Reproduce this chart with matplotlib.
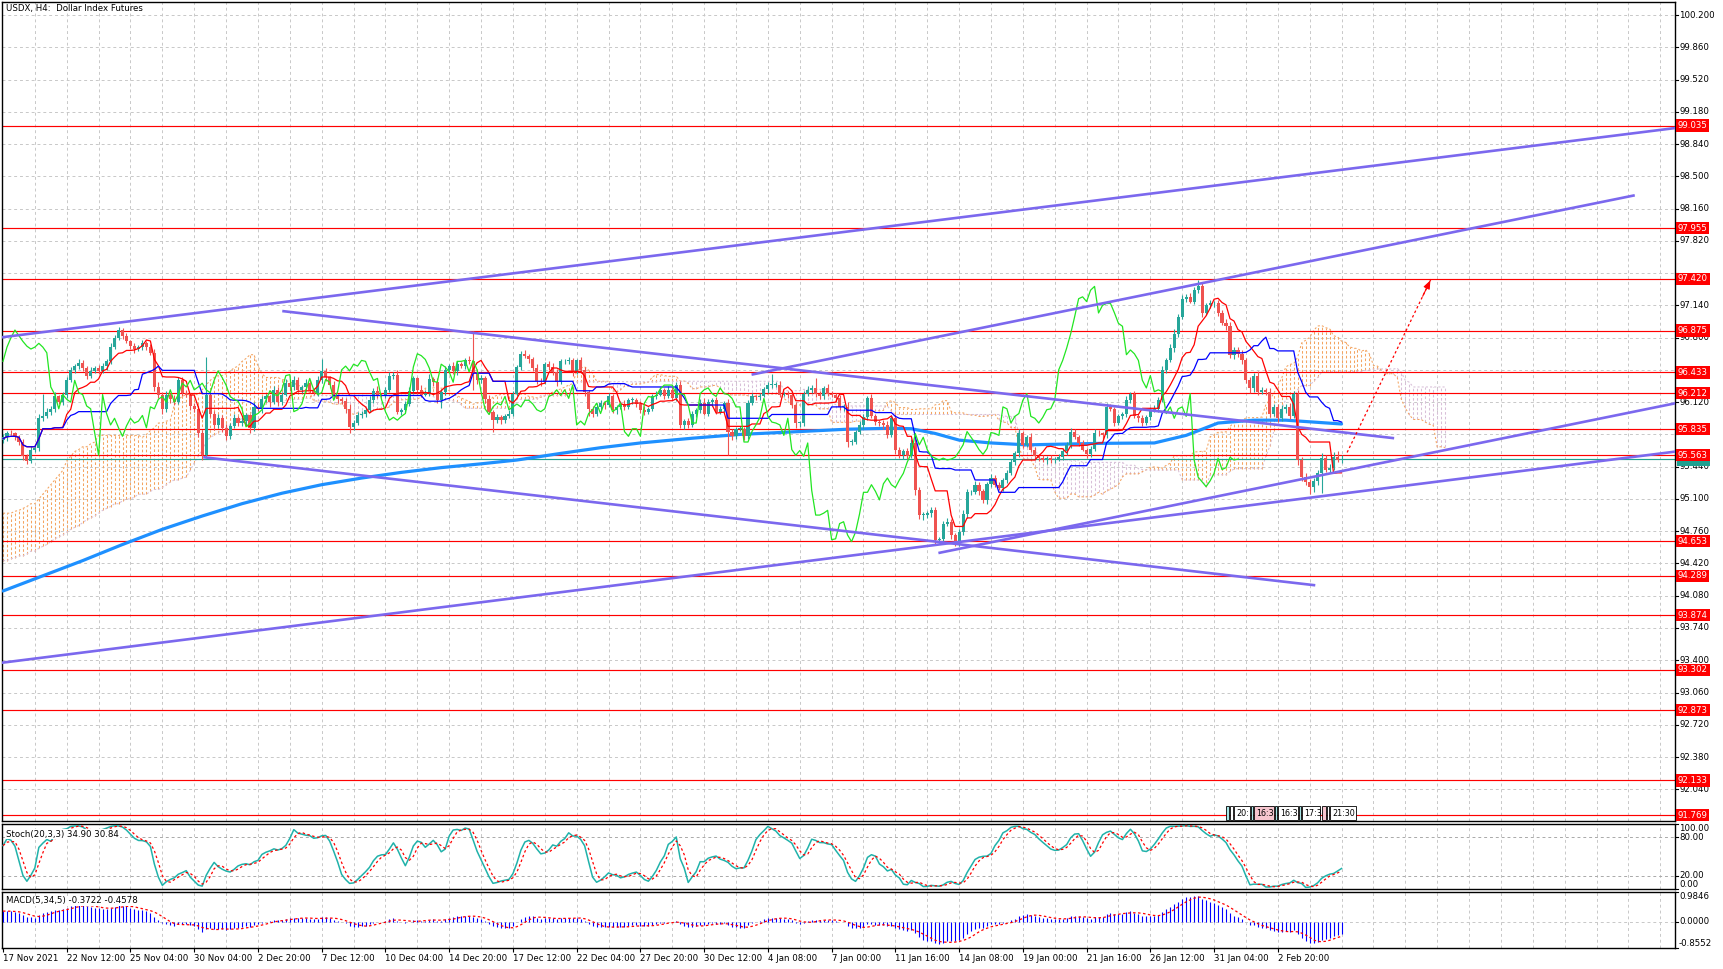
import numpy as np
import pandas as pd
import matplotlib
matplotlib.use("Agg")
import matplotlib.pyplot as plt
from matplotlib.transforms import blended_transform_factory as blend
from matplotlib.patches import Rectangle

# ---------------- data ----------------
title = "USDX, H4:  Dollar Index Futures"
first_open = 95.72
closes = [
    95.75, 95.80, 95.79, 95.75, 95.70, 95.55, 95.50, 95.62, 95.64, 95.95,
    95.97, 96.02, 96.05, 96.18, 96.12, 96.20, 96.35, 96.46, 96.50, 96.53,
    96.48, 96.40, 96.45, 96.48, 96.45, 96.50, 96.55, 96.70, 96.80, 96.88,
    96.82, 96.76, 96.71, 96.68, 96.70, 96.74, 96.70, 96.64, 96.28, 96.20,
    96.05, 96.20, 96.15, 96.12, 96.35, 96.22, 96.20, 96.08, 96.05, 95.80,
    95.56, 96.20, 96.00, 95.88, 95.95, 95.85, 95.76, 95.87, 95.95, 95.90,
    95.92, 95.98, 95.85, 96.07, 96.05, 96.15, 96.18, 96.12, 96.25, 96.12,
    96.20, 96.32, 96.28, 96.35, 96.25, 96.28, 96.32, 96.25, 96.22, 96.35,
    96.45, 96.38, 96.30, 96.18, 96.15, 96.13, 96.05, 95.86, 95.90, 95.98,
    96.00, 96.04, 96.14, 96.24, 96.20, 96.19, 96.25, 96.40, 96.41, 96.02,
    96.04, 96.10, 96.24, 96.37, 96.25, 96.20, 96.22, 96.36, 96.33, 96.14,
    96.23, 96.46, 96.50, 96.45, 96.52, 96.50, 96.56, 96.55, 96.44, 96.35,
    96.37, 96.15, 96.02, 95.93, 95.96, 95.93, 95.97, 96.00, 96.21, 96.49,
    96.63, 96.61, 96.57, 96.48, 96.34, 96.33, 96.52, 96.49, 96.44, 96.33,
    96.55, 96.55, 96.56, 96.44, 96.56, 96.46, 96.23, 96.05, 95.99, 96.07,
    96.11, 96.09, 96.18, 96.04, 96.07, 96.10, 96.07, 96.14, 96.14, 96.10,
    96.04, 96.02, 96.05, 96.18, 96.20, 96.25, 96.19, 96.25, 96.16, 96.30,
    95.88, 95.92, 95.88, 96.00, 96.04, 96.11, 96.00, 96.12, 96.14, 96.02,
    96.05, 96.11, 95.81, 95.76, 95.84, 95.84, 95.76, 96.11, 96.18, 96.17,
    96.19, 96.26, 96.30, 96.30, 96.30, 96.20, 96.21, 96.20, 96.09, 95.90,
    95.90, 96.21, 96.25, 96.27, 96.21, 96.18, 96.27, 96.21, 96.20, 96.16,
    96.07, 96.07, 95.70, 95.70, 95.81, 95.88, 95.96, 96.16, 95.97, 95.91,
    95.90, 95.88, 95.77, 95.95, 95.62, 95.56, 95.61, 95.55, 95.69, 95.19,
    94.93, 94.93, 94.95, 94.98, 94.67, 94.68, 94.84, 94.86, 94.72, 94.65,
    94.75, 94.94, 95.17, 95.17, 95.25, 95.18, 95.09, 95.26, 95.32, 95.25,
    95.22, 95.30, 95.37, 95.49, 95.58, 95.79, 95.67, 95.75, 95.62, 95.55,
    95.53, 95.51, 95.53, 95.51, 95.52, 95.54, 95.60, 95.67, 95.81, 95.75,
    95.69, 95.62, 95.57, 95.63, 95.80, 95.79, 95.77, 96.07, 96.05, 95.90,
    95.97, 96.00, 96.14, 96.21, 95.97, 95.95, 95.90, 95.96, 96.04, 96.05,
    96.14, 96.46, 96.56, 96.69, 96.84, 97.02, 97.21, 97.23, 97.18, 97.30,
    97.34, 97.06, 97.14, 97.16, 97.16, 97.06, 96.95, 96.92, 96.62, 96.67,
    96.63, 96.56, 96.35, 96.27, 96.40, 96.23, 96.25, 96.23, 96.00, 96.07,
    95.95, 96.05, 96.07, 95.97, 96.21, 95.51, 95.33, 95.28, 95.23, 95.29,
    95.37, 95.53, 95.41, 95.43, 95.54, 95.51, 95.52,
]
# wick lengths above / below the body, in hundredths
wick_hi = [
    3, 2, 3, 2, 2, 3, 2, 4, 3, 5,   24, 4, 3, 5, 2, 3, 4, 3, 2, 4,
    3, 2, 4, 2, 3, 3, 2, 4, 3, 3,   2, 3, 2, 3, 2, 3, 2, 3, 4, 5,
    3, 4, 2, 5, 3, 4, 3, 2, 3, 4,   3, 40, 4, 3, 5, 3, 4, 3, 5, 2,
    4, 3, 2, 5, 3, 4, 3, 2, 4, 3,   3, 4, 2, 5, 3, 2, 4, 3, 2, 5,
    13, 3, 2, 4, 3, 2, 3, 5, 3, 4,  3, 2, 4, 3, 5, 2, 3, 4, 3, 5,
    2, 3, 4, 3, 2, 5, 3, 6, 3, 4,   3, 4, 2, 4, 3, 2, 3, 5, 32, 3,
    4, 3, 5, 2, 3, 2, 3, 4, 3, 2,   3, 4, 2, 3, 4, 3, 2, 3, 4, 3,
    2, 3, 4, 3, 2, 4, 3, 2, 3, 4,   3, 2, 4, 3, 2, 3, 4, 2, 3, 2,
    3, 4, 2, 3, 4, 3, 2, 4, 3, 3,   4, 2, 3, 3, 2, 4, 5, 3, 2, 3,
    3, 2, 4, 3, 2, 3, 2, 3, 4, 2,   3, 2, 3, 12, 3, 4, 2, 3, 4, 3,
    2, 3, 4, 3, 10, 3, 2, 4, 3, 2,  4, 3, 5, 3, 2, 4, 3, 2, 5, 3,
    2, 3, 4, 3, 5, 3, 2, 3, 4, 5,   4, 3, 2, 4, 3, 2, 3, 4, 3, 2,
    3, 4, 3, 2, 4, 3, 3, 2, 4, 3,   3, 2, 4, 3, 3, 5, 3, 2, 4, 3,
    2, 3, 2, 3, 2, 3, 4, 3, 4, 3,   2, 3, 2, 3, 4, 3, 2, 4, 3, 2,
    3, 2, 4, 2, 3, 2, 3, 2, 3, 4,   3, 4, 3, 4, 5, 3, 4, 3, 4, 3,
    7, 4, 3, 4, 3, 4, 3, 5, 4, 3,   3, 4, 3, 4, 3, 5, 3, 2, 4, 3,
    3, 4, 3, 4, 3, 4, 3, 4, 3, 3,   4, 5, 3, 4, 5, 6, 4,
]
wick_lo = [
    3, 4, 2, 3, 3, 4, 3, 2, 3, 4,   3, 2, 4, 3, 2, 3, 4, 2, 3, 3,
    3, 4, 3, 2, 3, 2, 4, 3, 2, 3,   3, 2, 3, 4, 2, 3, 3, 2, 4, 4,
    5, 3, 4, 3, 2, 4, 3, 4, 3, 5,   5, 3, 4, 5, 3, 4, 4, 3, 2, 3,
    3, 4, 5, 3, 2, 4, 3, 5, 2, 4,   3, 2, 4, 3, 2, 3, 4, 3, 2, 3,
    3, 4, 3, 2, 4, 3, 4, 6, 3, 2,   3, 4, 2, 3, 4, 2, 3, 2, 4, 3,
    4, 3, 2, 3, 4, 3, 2, 3, 4, 3,   8, 3, 2, 3, 4, 2, 3, 3, 19, 4,
    3, 4, 3, 12, 3, 4, 3, 2, 3, 2,  3, 2, 4, 3, 3, 4, 2, 3, 3, 4,
    2, 3, 3, 4, 2, 3, 4, 8, 3, 2,   3, 4, 2, 3, 4, 2, 3, 2, 4, 3,
    3, 4, 3, 2, 3, 2, 4, 3, 2, 3,   3, 4, 3, 2, 4, 3, 2, 3, 4, 3,
    2, 3, 25, 4, 3, 2, 4, 3, 2, 3,  3, 2, 4, 3, 2, 3, 2, 4, 3, 5,
    4, 3, 2, 3, 4, 3, 3, 2, 3, 4,   3, 4, 5, 3, 2, 3, 4, 3, 2, 3,
    3, 4, 3, 2, 5, 3, 4, 3, 2, 5,   4, 5, 3, 4, 4, 3, 2, 3, 4, 5,
    5, 3, 4, 3, 2, 4, 3, 4, 3, 2,   3, 4, 3, 2, 3, 4, 3, 2, 3, 4,
    3, 2, 4, 3, 3, 2, 3, 4, 3, 2,   3, 2, 4, 3, 2, 3, 4, 3, 2, 3,
    2, 3, 4, 3, 2, 4, 3, 2, 3, 2,   3, 2, 3, 2, 4, 3, 2, 3, 2, 3,
    3, 4, 2, 3, 4, 3, 2, 4, 3, 5,   3, 4, 3, 5, 4, 3, 2, 3, 4, 3,
    4, 3, 4, 3, 2, 5, 4, 3, 8, 6,   4, 21, 3, 4, 3, 2, 3,
]
# Ichimoku spans on the first 78 bars (history before the visible window)
span_a_early = [
    94.95, 94.95, 94.95, 94.97, 94.98, 95.00, 95.02, 95.05, 95.05, 95.10,
    95.15, 95.20, 95.25, 95.30, 95.35, 95.40, 95.50, 95.55, 95.60, 95.62,
    95.65, 95.65, 95.68, 95.70, 95.77, 95.77, 95.77, 95.77, 95.77, 95.77,
    95.77, 95.77, 95.77, 95.77, 95.77, 95.75, 95.78, 95.82, 95.85, 95.90,
    95.90, 95.92, 95.93, 96.09, 96.15, 96.18, 96.20, 96.20, 96.20, 96.20,
    96.25, 96.30, 96.35, 96.38, 96.40, 96.40, 96.42, 96.45, 96.48, 96.50,
    96.55, 96.58, 96.62, 96.62, 96.50, 96.42, 96.38, 96.38, 96.38, 96.38,
    96.36, 96.35, 96.33, 96.32, 96.30, 96.28, 96.25, 96.22,
]
span_b_early = [
    94.45, 94.45, 94.47, 94.48, 94.50, 94.50, 94.52, 94.55, 94.55, 94.58,
    94.60, 94.62, 94.65, 94.68, 94.70, 94.72, 94.75, 94.78, 94.80, 94.82,
    94.85, 94.88, 94.90, 94.92, 94.95, 94.98, 95.00, 95.02, 95.05, 95.05,
    95.08, 95.10, 95.10, 95.12, 95.15, 95.15, 95.15, 95.18, 95.20, 95.20,
    95.22, 95.25, 95.28, 95.30, 95.30, 95.32, 95.33, 95.40, 95.48, 95.55,
    95.62, 95.70, 95.75, 95.77, 95.80, 95.82, 95.85, 95.88, 95.90, 95.92,
    95.95, 95.98, 96.00, 96.02, 96.05, 96.08, 96.10, 96.12, 96.12, 96.13,
    96.13, 96.14, 96.15, 96.15, 96.15, 96.15, 96.16, 96.16,
]
# long moving average (thick blue), sampled along the line
ma_bars = [0, 10, 20, 30, 40, 50, 60, 70, 80, 90, 100, 110, 120, 129, 140, 150,
           160, 173, 185, 195, 212, 223, 228, 234, 240, 248, 257, 276, 289,
           297, 305, 314, 322, 336]
ma_vals = [94.13, 94.29, 94.45, 94.62, 94.78, 94.92, 95.05, 95.16, 95.25, 95.32,
           95.38, 95.43, 95.47, 95.51, 95.58, 95.64, 95.69, 95.74, 95.78, 95.80,
           95.835, 95.845, 95.84, 95.79, 95.72, 95.69, 95.67, 95.686, 95.69,
           95.77, 95.90, 95.93, 95.93, 95.89]
# MACD averages carried in from the bars before the window
ema_fast_seed = 95.72
ema_slow_seed = 95.35
levels = [99.035, 97.955, 97.420, 96.875, 96.433, 96.212, 95.835, 95.563,
          94.653, 94.289, 93.874, 93.302, 92.873, 92.133, 91.769]
bid = 95.52
price_ticks = [100.200, 99.860, 99.520, 99.180, 98.840, 98.500, 98.160, 97.820,
               97.480, 97.140, 96.800, 96.460, 96.120, 95.780, 95.440, 95.100,
               94.760, 94.420, 94.080, 93.740, 93.400, 93.060, 92.720, 92.380,
               92.040]
# trend lines: (bar0, price0, bar1, price1)
trend_lines = [
    (-1, 96.80, 420, 99.01),
    (187.9, 96.41, 409.6, 98.30),
    (70.1, 97.08, 349.2, 95.74),
    (50.25, 95.54, 329.4, 94.19),
    (-1, 93.37, 420, 95.60),
    (234.8, 94.53, 420, 96.11),
]
arrow_x = [337.4, 358.6]
arrow_y = [95.59, 97.43]
date_labels = ["17 Nov 2021", "22 Nov 12:00", "25 Nov 04:00", "30 Nov 04:00",
               "2 Dec 20:00", "7 Dec 12:00", "10 Dec 04:00", "14 Dec 20:00",
               "17 Dec 12:00", "22 Dec 04:00", "27 Dec 20:00", "30 Dec 12:00",
               "4 Jan 08:00", "7 Jan 00:00", "11 Jan 16:00", "14 Jan 08:00",
               "19 Jan 00:00", "21 Jan 16:00", "26 Jan 12:00", "31 Jan 04:00",
               "2 Feb 20:00"]
stoch_text = "Stoch(20,3,3) 34.90 30.84"
macd_text = "MACD(5,34,5) -0.3722 -0.4578"
stoch_labels = [(100, "100.00", "top"), (80, "80.00", "center"),
                (20, "20.00", "center"), (0, "0.00", "bottom")]
macd_labels = [(0.9846, "0.9846", "top"), (0.0, "0.0000", "center"),
               (-0.8552, "-0.8552", "bottom")]

# ---------------- derived series ----------------
m = min(len(closes), len(wick_hi), len(wick_lo))
c = np.array(closes[:m])
o = np.concatenate([[first_open], c[:-1]])
hi = np.maximum(o, c) + np.array(wick_hi[:m]) / 100.0
lo = np.minimum(o, c) - np.array(wick_lo[:m]) / 100.0
n = m
idx = np.arange(n)
s_hi, s_lo, s_c = pd.Series(hi), pd.Series(lo), pd.Series(c)

tenkan = ((s_hi.rolling(9, min_periods=1).max() + s_lo.rolling(9, min_periods=1).min()) / 2).values
kijun = ((s_hi.rolling(26, min_periods=1).max() + s_lo.rolling(26, min_periods=1).min()) / 2).values
b52 = ((s_hi.rolling(52, min_periods=1).max() + s_lo.rolling(52, min_periods=1).min()) / 2).values
ne = len(span_a_early)
span_a = np.concatenate([span_a_early, ((tenkan + kijun) / 2)[ne - 26:n]])
span_b = np.concatenate([span_b_early, b52[ne - 26:n]])
xs_cloud = np.arange(len(span_a))

ll = s_lo.rolling(20, min_periods=1).min()
hh = s_hi.rolling(20, min_periods=1).max()
K = 100 * (s_c - ll).rolling(3, min_periods=1).sum() / (hh - ll).rolling(3, min_periods=1).sum()
D = K.rolling(3, min_periods=1).mean()

ema5 = pd.Series(np.concatenate([[ema_fast_seed], c])).ewm(span=5, adjust=False).mean().values[1:]
ema34 = pd.Series(np.concatenate([[ema_slow_seed], c])).ewm(span=34, adjust=False).mean().values[1:]
macd = ema5 - ema34
sig = pd.Series(macd).rolling(5, min_periods=1).mean().values

# ---------------- figure layout ----------------
W, H = 1723, 969
plt.rcParams['font.family'] = ['DejaVu Sans']
fig = plt.figure(figsize=(W / 100, H / 100), dpi=100)
fig.patch.set_facecolor('white')

L, R = 2, 1675


def panel(top, bot):
    a = fig.add_axes([L / W, 1 - bot / H, (R - L) / W, (bot - top) / H])
    a.set_facecolor('white')
    for s in a.spines.values():
        s.set_color('black')
        s.set_linewidth(1.0)
    a.tick_params(left=False, labelleft=False, bottom=False, labelbottom=False)
    return a


ax = panel(2, 821)
axs = panel(824, 889)
axm = panel(892, 948)
XL = (-0.25, 419.7)
for a in (ax, axs, axm):
    a.set_xlim(*XL)
    for b in range(8, 420, 8):
        a.axvline(b, color='#C8C8C8', lw=0.7, ls=(0, (3, 3)), zorder=0)

ax.set_ylim(91.706, 100.337)
axs.set_ylim(0, 100)
axm.set_ylim(-0.8552, 0.9846)

# --- main panel grid
for p in price_ticks:
    ax.axhline(p, color='#C8C8C8', lw=0.7, ls=(0, (3, 3)), zorder=0)

# --- cloud
up = span_a >= span_b
cl_cols = np.where(up, '#F4A460', '#D8BFD8')
ax.vlines(xs_cloud, np.minimum(span_a, span_b), np.maximum(span_a, span_b),
          colors=cl_cols, linestyles=(0, (2.5, 2)), lw=0.75, zorder=1)
ax.plot(xs_cloud, span_a, color='#F4A460', ls=(0, (2, 2)), lw=0.75, zorder=1)
ax.plot(xs_cloud, span_b, color='#D8BFD8', ls=(0, (2, 2)), lw=0.75, zorder=1)

# --- levels
for lv in levels:
    ax.axhline(lv, color='red', lw=0.85, zorder=2)
ax.axhline(bid, color='#20A090', lw=0.85, zorder=2)

# --- MA
ax.plot(ma_bars, ma_vals, color='#1E90FF', lw=2.3, zorder=3,
        solid_capstyle='round', solid_joinstyle='round')

# --- candles
bull = c >= o
ccol = np.where(bull, '#26A69A', '#EF5350')
ax.vlines(idx, lo, hi, colors=ccol, lw=0.8, zorder=4)
body_lo = np.minimum(o, c)
body_h = np.maximum(np.abs(c - o), 0.008)
ax.bar(idx, body_h, bottom=body_lo, width=0.78, color=ccol, linewidth=0, zorder=4)

# --- Ichimoku lines
ax.plot(idx, tenkan, color='red', lw=0.9, zorder=5)
ax.plot(idx, kijun, color='#0000FF', lw=0.9, zorder=5)
ax.plot(idx[:-26], c[26:], color='#22E622', lw=0.9, zorder=5)

# --- trend lines
for (x0, y0, x1, y1) in trend_lines:
    ax.plot([x0, x1], [y0, y1], color='#7B68EE', lw=1.9, zorder=6, solid_capstyle='butt')

# --- projected arrow
ax.plot(arrow_x, arrow_y, color='red', lw=0.9, ls=(0, (2, 2)), zorder=7)
dx, dy = arrow_x[1] - arrow_x[0], arrow_y[1] - arrow_y[0]
ax.annotate('', xy=(arrow_x[1], arrow_y[1]),
            xytext=(arrow_x[1] - dx * 0.12, arrow_y[1] - dy * 0.12),
            arrowprops=dict(arrowstyle='-|>,head_length=0.5,head_width=0.2',
                            color='red', lw=0.8), zorder=7)

# --- title
ax.text(4 / (R - L), 1 - 7 / 819, title, transform=ax.transAxes, fontsize=6.2,
        va='center', ha='left', color='black', zorder=10)

# --- right price scale (labels hidden behind a level box are skipped)
tb = blend(ax.transAxes, ax.transData)
for p in price_ticks:
    ax.plot([1, 1 + 3 / (R - L)], [p, p], transform=tb, color='black', lw=0.8, clip_on=False)
    if min(abs(p - lv) for lv in levels + [bid]) < 0.065:
        continue
    ax.text(1 + 4 / (R - L), p, f"{p:.3f}", transform=tb, fontsize=6.2,
            va='center', ha='left', clip_on=False, zorder=3)
# bid box (mostly hidden under the 95.563 box, as in the original)
ax.add_patch(Rectangle((1 + 2 / (R - L), bid - 0.075), 33 / (R - L), 0.1,
                       transform=tb, fc='#20A090', ec='none', clip_on=False, zorder=11))
for lv in levels:
    ax.text(1 + 3 / (R - L), lv, f"{lv:.3f}", transform=tb, fontsize=6.2,
            va='center', ha='left', color='white', clip_on=False, zorder=12,
            bbox=dict(boxstyle='square,pad=0.18', fc='red', ec='none'))

# --- event boxes at the bottom of main chart (pixel layout)
events = [(1226, 1229, '', '#A8E6E6'), (1230, 1233, '', 'white'),
          (1234, 1250, '20:', 'white'), (1251, 1253, '', '#A8E6E6'),
          (1254, 1274, '16:3', '#F7C6CF'), (1275, 1277, '', '#A8E6E6'),
          (1278, 1298, '16:3', 'white'), (1299, 1301, '', '#A8E6E6'),
          (1302, 1320, '17:3', 'white'), (1322, 1326, '', '#F7C6CF'),
          (1327, 1329, '', 'white'), (1330, 1356, '21:30', 'white')]
for (x0, x1, t, colr) in events:
    fig.add_artist(Rectangle((x0 / W, 1 - 820 / H), (x1 - x0) / W, 14 / H,
                             transform=fig.transFigure, fc=colr, ec='black', lw=0.6))
    if t:
        fig.text((x0 + 2) / W, 1 - 813 / H, t, fontsize=5.8, va='center', ha='left')

# --- stochastic panel
for lv in (80, 20):
    axs.axhline(lv, color='#A9A9A9', lw=0.7, ls=(0, (3, 3)), zorder=0)
axs.plot(idx, K.values, color='#20B2AA', lw=1.1, zorder=3)
axs.plot(idx, D.values, color='red', lw=0.9, ls=(0, (2, 2)), zorder=4)
axs.text(4 / (R - L), 1 - 10 / 65, stoch_text, transform=axs.transAxes, fontsize=6.2,
         va='center', ha='left', zorder=10,
         bbox=dict(boxstyle='square,pad=0.1', fc='white', ec='none'))
tbs = blend(axs.transAxes, axs.transData)
for v, t, va in stoch_labels:
    axs.plot([1, 1 + 3 / (R - L)], [v, v], transform=tbs, color='black', lw=0.8, clip_on=False)
    axs.text(1 + 4 / (R - L), v, t, transform=tbs, fontsize=6.2, va=va, ha='left', clip_on=False)

# --- MACD panel
axm.axhline(0, color='#C8C8C8', lw=0.7, ls=(0, (3, 3)), zorder=0)
axm.vlines(idx, 0, macd, colors='#0000FF', lw=0.8, zorder=3)
axm.plot(idx, sig, color='red', lw=0.9, ls=(0, (2, 2)), zorder=4)
axm.text(4 / (R - L), 1 - 9 / 56, macd_text, transform=axm.transAxes, fontsize=6.2,
         va='center', ha='left', zorder=10,
         bbox=dict(boxstyle='square,pad=0.1', fc='white', ec='none'))
tbm = blend(axm.transAxes, axm.transData)
for v, t, va in macd_labels:
    axm.plot([1, 1 + 3 / (R - L)], [v, v], transform=tbm, color='black', lw=0.8, clip_on=False)
    axm.text(1 + 4 / (R - L), v, t, transform=tbm, fontsize=6.2, va=va, ha='left', clip_on=False)

# --- time axis
tick_bars = [16 * k for k in range(len(date_labels))]
axm.set_xticks(tick_bars)
axm.set_xticklabels(date_labels, fontsize=6.2, ha='left')
axm.tick_params(bottom=True, labelbottom=True, direction='out', length=3, width=0.8, pad=1.5)

fig.savefig('out.png', dpi=100, facecolor='white')
